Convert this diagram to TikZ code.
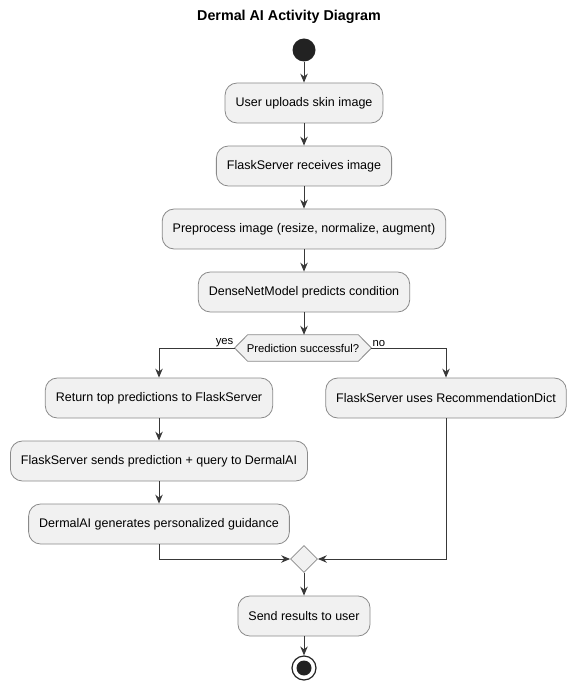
\documentclass[tikz,border=0pt]{standalone}
\usepackage{fontspec}
\setmainfont{Liberation Sans}
\usetikzlibrary{arrows.meta,shapes.geometric,backgrounds}
\definecolor{boxfill}{HTML}{F1F1F1}
\definecolor{boxline}{HTML}{8A8A8A}
\definecolor{arrowc}{HTML}{383838}
\definecolor{startc}{HTML}{222222}
\begin{document}
\begin{tikzpicture}[x=1pt,y=-1pt,
 act/.style={draw=boxline, fill=boxfill, rounded corners=12pt, minimum height=40pt, inner xsep=10.5pt, font=\fontsize{12.5}{14}\selectfont, line width=0.8pt},
 flow/.style={draw=arrowc, line width=1pt, -{Stealth[length=9pt,width=7.5pt,inset=3pt]}},
 lbl/.style={font=\fontsize{11.3}{13}\selectfont, inner sep=1pt}]
\useasboundingbox (0,0) rectangle (566,684);
\node[font=\bfseries\fontsize{14.3}{16}\selectfont] (title) at (289,17) {Dermal AI Activity Diagram};
\node[circle, fill=startc, minimum size=23pt, inner sep=0pt] (start) at (304,50) {};
\node[act] (b1) at (304,103) {User uploads skin image};
\node[act] (b2) at (304,166) {FlaskServer receives image};
\node[act] (b3) at (304,229) {Preprocess image (resize, normalize, augment)};
\node[act] (b4) at (304,292) {DenseNetModel predicts condition};
\node[lbl, minimum height=26pt, inner xsep=12pt] (dec) at (303,348) {Prediction successful?};
\begin{scope}[on background layer]
\draw[draw=boxline, fill=boxfill, line width=0.8pt] (dec.west) -- ([xshift=13pt]dec.north west) -- ([xshift=-13pt]dec.north east) -- (dec.east) -- ([xshift=-13pt]dec.south east) -- ([xshift=13pt]dec.south west) -- cycle;
\end{scope}
\node[lbl, anchor=south east] (yes) at (dec.west) {yes};
\node[lbl, anchor=south west] (no) at (dec.east) {no};
\node[act] (l1) at (159,398) {Return top predictions to FlaskServer};
\node[act] (r1) at (446,398) {FlaskServer uses RecommendationDict};
\node[act] (l2) at (159,461) {FlaskServer sends prediction + query to DermalAI};
\node[act] (l3) at (159,524) {DermalAI generates personalized guidance};
\node[diamond, draw=boxline, fill=boxfill, line width=0.8pt, minimum size=27pt, inner sep=0pt] (merge) at (304,559) {};
\node[act] (send) at (304,616) {Send results to user};
\node[circle, draw=startc, line width=1.2pt, minimum size=24pt, inner sep=0pt] (end) at (304,668) {};
\node[circle, fill=startc, minimum size=15pt, inner sep=0pt] (endin) at (end) {};
\draw[flow] (start) -- (b1);
\draw[flow] (b1) -- (b2);
\draw[flow] (b2) -- (b3);
\draw[flow] (b3) -- (b4);
\draw[flow] (b4.south) -- (b4.south |- dec.north);
\draw[flow] (dec.west) -| (l1.north);
\draw[flow] (dec.east) -| (r1.north);
\draw[flow] (l1) -- (l2);
\draw[flow] (l2) -- (l3);
\draw[flow] (l3.south) |- (merge.west);
\draw[flow] (r1.south) |- (merge.east);
\draw[flow] (merge) -- (send);
\draw[flow] (send) -- (end);
\end{tikzpicture}
\end{document}
